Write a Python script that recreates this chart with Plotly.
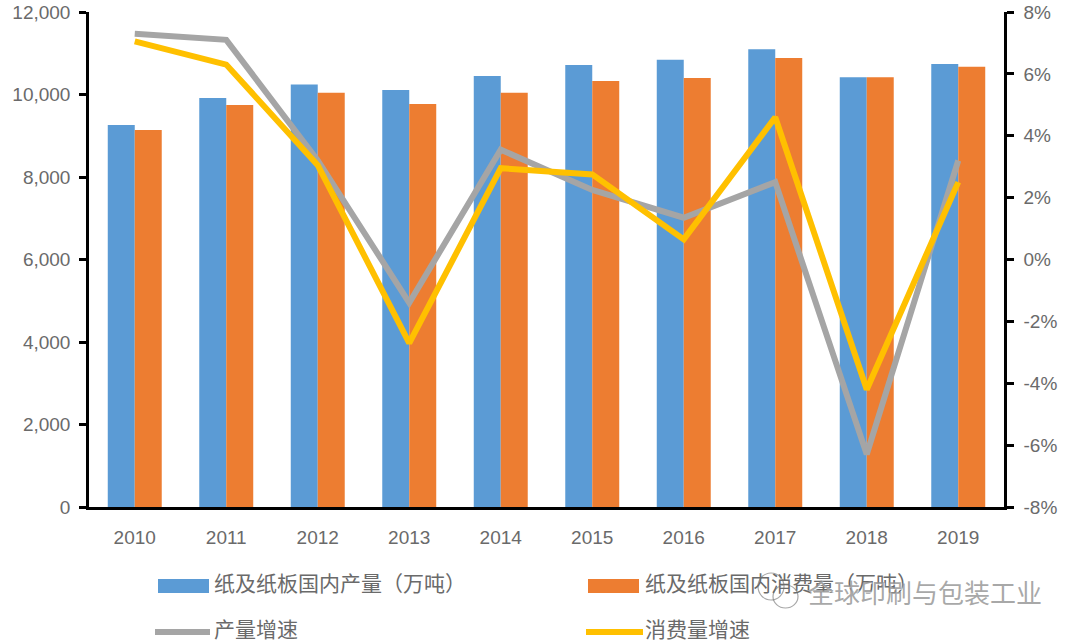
import plotly.graph_objects as go

years = ['2010', '2011', '2012', '2013', '2014', '2015', '2016', '2017', '2018', '2019']
production = [9260, 9915, 10240, 10110, 10450, 10715, 10840, 11100, 10420, 10740]
consumption = [9140, 9745, 10040, 9770, 10040, 10330, 10400, 10885, 10420, 10670]
production_growth = [7.3, 7.1, 3.2, -1.4, 3.55, 2.25, 1.35, 2.5, -6.3, 3.2]
consumption_growth = [7.05, 6.3, 3.05, -2.7, 2.95, 2.75, 0.65, 4.6, -4.2, 2.5]

left_ticks = [0, 2000, 4000, 6000, 8000, 10000, 12000]
right_ticks = [-8, -6, -4, -2, 0, 2, 4, 6, 8]
right_labels = [f'{v}%' for v in right_ticks]

BLUE = '#5b9bd5'
ORANGE = '#ed7d31'
GRAY = '#a5a5a5'
YELLOW = '#ffc000'
TEXT = '#6a6a6a'
W, H = 1080, 640

# plot area in picture pixels, body margin is removed when the page loads
PLOT_L, PLOT_R, PLOT_T, PLOT_B = 89, 1004, 12, 507


def px_x(x):
    return (x - PLOT_L) / (PLOT_R - PLOT_L)


def px_y(y):
    return (PLOT_B - y) / (PLOT_B - PLOT_T)


fig = go.Figure()
fig.add_trace(go.Bar(x=years, y=production, name='纸及纸板国内产量（万吨）',
                     marker=dict(color=BLUE, line=dict(width=0))))
fig.add_trace(go.Bar(x=years, y=consumption, name='纸及纸板国内消费量（万吨）',
                     marker=dict(color=ORANGE, line=dict(width=0))))
fig.add_trace(go.Scatter(x=years, y=production_growth, name='产量增速', yaxis='y2',
                         mode='lines', line=dict(color=GRAY, width=6)))
fig.add_trace(go.Scatter(x=years, y=consumption_growth, name='消费量增速', yaxis='y2',
                         mode='lines', line=dict(color=YELLOW, width=6)))

# legend drawn by hand, the swatches in the original are wide bars
shapes = []
annotations = []
legend_rows = [
    (158, 209, 586, 'rect', BLUE, 212, '纸及纸板国内产量（万吨）'),
    (588, 639, 586, 'rect', ORANGE, 643, '纸及纸板国内消费量（万吨）'),
    (155, 210, 632, 'line', GRAY, 212, '产量增速'),
    (586, 643, 632, 'line', YELLOW, 643, '消费量增速'),
]
for x0, x1, yc, kind, color, text_x, label in legend_rows:
    if kind == 'rect':
        shapes.append(dict(type='rect', xref='paper', yref='paper', x0=px_x(x0), x1=px_x(x1),
                           y0=px_y(yc + 7), y1=px_y(yc - 7), fillcolor=color, line=dict(width=0)))
    else:
        shapes.append(dict(type='line', xref='paper', yref='paper', x0=px_x(x0), x1=px_x(x1),
                           y0=px_y(yc), y1=px_y(yc), line=dict(color=color, width=6)))
    annotations.append(dict(text=label, xref='paper', yref='paper', x=px_x(text_x), y=px_y(yc - 4),
                            xanchor='left', yanchor='middle', showarrow=False, height=24,
                            font=dict(family='Noto Sans CJK SC', size=21, color=TEXT)))

# watermark
annotations.append(dict(text='全球印刷与包装工业', xref='paper', yref='paper', x=px_x(806), y=px_y(591),
                        xanchor='left', yanchor='middle', showarrow=False,
                        font=dict(family='Noto Sans CJK SC', size=26, color='rgba(140,140,140,0.75)',
                                  shadow='1px 1px 1px white')))
for x0, x1, y0, y1 in [(758, 784, 573, 600), (773, 798, 585, 608)]:
    shapes.append(dict(type='circle', xref='paper', yref='paper', x0=px_x(x0), x1=px_x(x1),
                       y0=px_y(y1), y1=px_y(y0), line=dict(color='rgba(130,130,130,0.7)', width=1.2)))

fig.update_layout(
    width=W, height=H,
    margin=dict(l=PLOT_L, r=W - PLOT_R, t=PLOT_T, b=H - PLOT_B, pad=0),
    barmode='group', bargap=0.41, bargroupgap=0,
    plot_bgcolor='white', paper_bgcolor='white',
    showlegend=False,
    font=dict(family='Liberation Sans', color=TEXT, size=19),
    shapes=shapes, annotations=annotations,
    xaxis=dict(type='category', showline=True, linecolor='black', linewidth=3,
               ticks='', showgrid=False, zeroline=False, automargin=False,
               ticklabelstandoff=11, tickfont=dict(size=19, color=TEXT)),
    yaxis=dict(range=[0, 12000], tickvals=left_ticks, tickformat=',d', automargin=False,
               showline=True, linecolor='black', linewidth=2.5,
               ticks='outside', ticklen=7, tickwidth=2.5, tickcolor='black',
               ticklabelstandoff=5, ticklabeloverflow='allow',
               showgrid=False, zeroline=False, tickfont=dict(size=19, color=TEXT)),
    yaxis2=dict(range=[-8, 8], tickvals=right_ticks, ticktext=right_labels, overlaying='y', side='right',
                showline=True, linecolor='black', linewidth=2.5, automargin=False,
                ticks='outside', ticklen=7, tickwidth=2.5, tickcolor='black',
                ticklabelstandoff=6, ticklabeloverflow='allow',
                showgrid=False, zeroline=False, tickfont=dict(size=19, color=TEXT)),
)

fig.write_html("out.html", config={'displayModeBar': False},
               post_script="document.body.style.margin = '0';")
